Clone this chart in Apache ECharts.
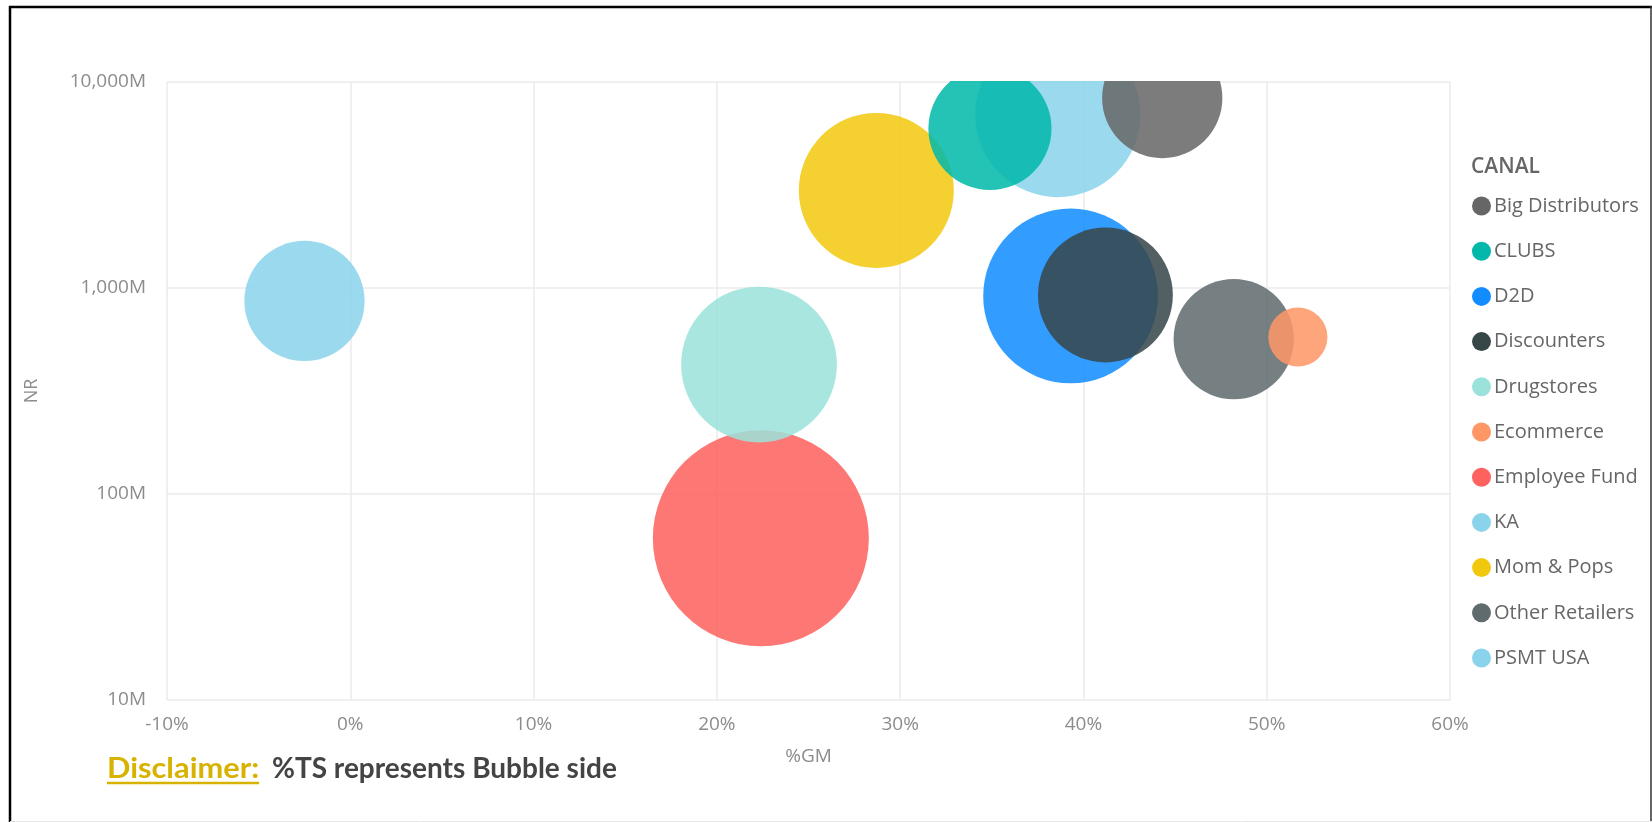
<!DOCTYPE html>
<html>
<head>
<meta charset="utf-8">
<title>NR vs %GM by CANAL</title>
<script src="https://cdn.jsdelivr.net/npm/echarts@6/dist/echarts.min.js"></script>
<style>
  html, body { margin: 0; padding: 0; background: #ffffff; }
  #chart { width: 1652px; height: 822px; }
</style>
</head>
<body>
<div id="chart"></div>
<script>
// Sales channels (legend order)
const channels = [
  'Big Distributors', 'CLUBS', 'D2D', 'Discounters', 'Drugstores', 'Ecommerce',
  'Employee Fund', 'KA', 'Mom & Pops', 'Other Retailers', 'PSMT USA'
];
// Gross margin, %
const gmPct = [44.3, 34.9, 39.3, 41.2, 22.3, 51.7, 22.4, 38.6, 28.7, 48.2, -2.5];
// Net revenue, millions
const nrMillions = [8360, 5950, 915, 925, 425, 578, 61, 6950, 2975, 565, 865];
// Share of total sales, % (drives bubble area)
const tsShare = [6.2, 6.5, 13.1, 7.8, 10.4, 1.5, 20.0, 11.7, 10.3, 6.2, 6.2];
// Channel colours
const channelColors = [
  '#666666', '#01B8AA', '#118DFF', '#374649', '#9BE2DA', '#FE9666',
  '#FD625E', '#8AD4EB', '#F2C80F', '#5F6B6D', '#8AD4EB'
];
// Axis ranges and ticks
const xTicks = { min: -10, max: 60, step: 10 };
const yTicks = { min: 1e7, max: 1e10 };

const GRID = { left: 167, right: 202, top: 82, bottom: 122 };
const MAX_BUBBLE = 216;
const FONT = '"Open Sans", "Noto Sans", sans-serif';
const maxTs = Math.max(...tsShare);

// Larger bubbles sit underneath smaller ones
const order = tsShare.map((v, i) => i).sort((a, b) => tsShare[b] - tsShare[a]);
const zOf = {};
order.forEach((idx, rank) => { zOf[idx] = 2 + rank; });

const series = channels.map((name, i) => ({
  name,
  type: 'scatter',
  z: zOf[i],
  data: [[gmPct[i], nrMillions[i] * 1e6, tsShare[i]]],
  symbol: 'circle',
  symbolSize: v => MAX_BUBBLE * Math.sqrt(v[2] / maxTs),
  itemStyle: { color: channelColors[i], opacity: 0.86 },
  emphasis: { disabled: true },
  clip: false
}));

const chart = echarts.init(document.getElementById('chart'), null, { renderer: 'canvas' });

function textWidth(str, font) {
  const c = document.createElement('canvas').getContext('2d');
  c.font = font;
  return c.measureText(str).width;
}

const discFont = 'bold 28px Lato, "Open Sans", sans-serif';
const discLabel = 'Disclaimer:';
const discText = '%TS represents Bubble side';
const discX = 107, discY = 769, discStretch = 1.1;
const discW = textWidth(discLabel, discFont) * discStretch;

const W = 1652, H = 822;

chart.setOption({
  animation: false,
  backgroundColor: '#ffffff',
  grid: { left: GRID.left, right: GRID.right, top: GRID.top, bottom: GRID.bottom, containLabel: false },
  xAxis: {
    type: 'value',
    min: xTicks.min, max: xTicks.max, interval: xTicks.step,
    name: '%GM',
    nameLocation: 'middle',
    nameGap: 47,
    nameTextStyle: { color: '#8c8c8c', fontSize: 19, fontFamily: FONT },
    axisLine: { show: false },
    axisTick: { show: false },
    axisLabel: { color: '#8c8c8c', fontSize: 19, fontFamily: FONT, margin: 15, formatter: '{value}%' },
    splitLine: { show: true, lineStyle: { color: '#ebebeb', width: 1.5 } }
  },
  yAxis: {
    type: 'log',
    logBase: 10,
    min: yTicks.min, max: yTicks.max,
    name: 'NR',
    nameLocation: 'middle',
    nameGap: 126,
    nameTextStyle: { color: '#8c8c8c', fontSize: 18, fontFamily: FONT },
    axisLine: { show: false },
    axisTick: { show: false },
    axisLabel: {
      color: '#8c8c8c', fontSize: 19, fontFamily: FONT, margin: 21,
      formatter: v => Math.round(v / 1e6).toLocaleString('en-US') + 'M'
    },
    splitLine: { show: true, lineStyle: { color: '#ebebeb', width: 1.5 } }
  },
  legend: {
    orient: 'vertical',
    left: 1472,
    top: 196,
    icon: 'circle',
    itemWidth: 19,
    itemHeight: 19,
    itemGap: 25.2,
    padding: 0,
    data: channels,
    selectedMode: false,
    itemStyle: { opacity: 1 },
    textStyle: { color: '#666666', fontSize: 20, fontFamily: FONT, padding: [0, 0, 0, -2] }
  },
  graphic: [
    // white band hiding bubble parts above the plot area
    {
      type: 'rect', z: 100, silent: true,
      shape: { x: GRID.left - 10, y: 9, width: W - GRID.left - GRID.right + 20, height: GRID.top - 10 },
      style: { fill: '#ffffff' }
    },
    // legend heading
    {
      type: 'text', z: 101, left: 1471, top: 157,
      style: { text: 'CANAL', fill: '#666666', font: '600 21px ' + FONT }
    },
    // footnote
    {
      type: 'text', z: 101, x: discX, y: discY, scaleX: discStretch,
      style: { text: discLabel, fill: '#D8B200', font: discFont, textVerticalAlign: 'middle' }
    },
    {
      type: 'line', z: 101,
      shape: { x1: discX, y1: discY + 14, x2: discX + discW, y2: discY + 14 },
      style: { stroke: '#D8B200', lineWidth: 2.5 }
    },
    {
      type: 'text', z: 101, x: 272, y: discY,
      style: { text: discText, fill: '#444444', font: discFont, textVerticalAlign: 'middle' }
    },
    // frame
    { type: 'line', z: 102, shape: { x1: 9, y1: 7, x2: W, y2: 7 }, style: { stroke: '#000000', lineWidth: 2.5 } },
    { type: 'line', z: 102, shape: { x1: 10, y1: 6, x2: 10, y2: H }, style: { stroke: '#000000', lineWidth: 2.5 } },
    { type: 'line', z: 102, shape: { x1: W - 1, y1: 6, x2: W - 1, y2: H }, style: { stroke: '#333333', lineWidth: 1.5 } },
    { type: 'line', z: 102, shape: { x1: 10, y1: H - 0.5, x2: W, y2: H - 0.5 }, style: { stroke: '#e6e6e6', lineWidth: 1 } }
  ],
  series
});
</script>
</body>
</html>
